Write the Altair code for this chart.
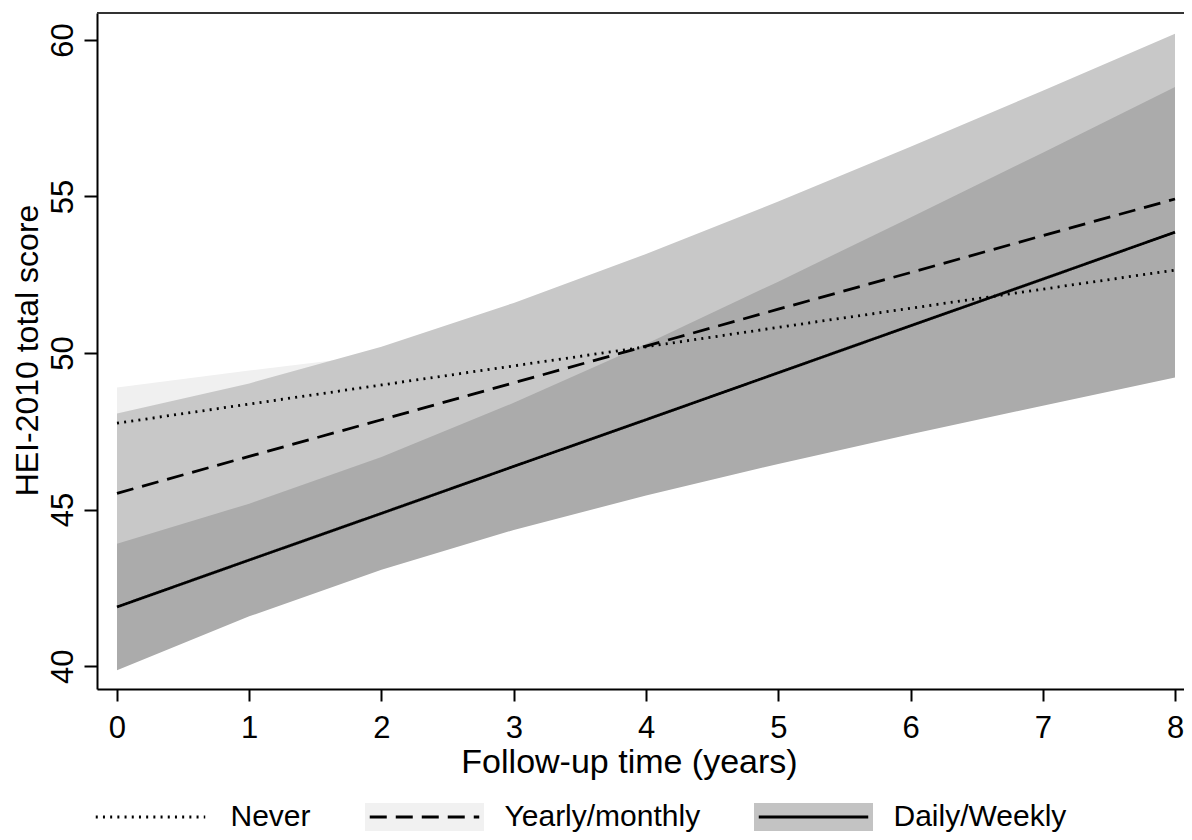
import altair as alt
import pandas as pd

# ---------------- data ----------------
years = [0, 1, 2, 3, 4, 5, 6, 7, 8]
series_names = ["Never", "Yearly/monthly", "Daily/Weekly"]

never_mean = [47.76, 48.37, 48.98, 49.59, 50.20, 50.82, 51.43, 52.04, 52.65]
never_lo = [46.62, 47.30, 48.01, 48.58, 49.05, 49.44, 49.76, 50.03, 50.25]
never_hi = [48.90, 49.44, 49.95, 50.60, 51.35, 52.20, 53.10, 54.05, 55.05]

yearly_mean = [45.52, 46.70, 47.87, 49.05, 50.22, 51.40, 52.57, 53.75, 54.92]
yearly_lo = [42.97, 44.37, 45.54, 46.50, 47.28, 47.96, 48.55, 49.12, 49.64]
yearly_hi = [48.07, 49.03, 50.20, 51.60, 53.16, 54.84, 56.59, 58.38, 60.20]

daily_mean = [41.89, 43.39, 44.88, 46.38, 47.87, 49.37, 50.87, 52.36, 53.86]
daily_lo = [39.87, 41.59, 43.08, 44.35, 45.45, 46.46, 47.41, 48.32, 49.22]
daily_hi = [43.91, 45.19, 46.68, 48.41, 50.29, 52.28, 54.33, 56.40, 58.50]

x_ticks = [0, 1, 2, 3, 4, 5, 6, 7, 8]
y_ticks = [40, 45, 50, 55, 60]

band_colors = {"Never": "#f0f0f0", "Yearly/monthly": "#c8c8c8", "Daily/Weekly": "#ababab"}
legend_box_colors = ["#ffffff", "#f1f1f1", "#c3c3c3"]
dash_patterns = [[2, 5.2], [17, 9], [1, 0]]

rows = []
for name, m, lo, hi in [
    ("Never", never_mean, never_lo, never_hi),
    ("Yearly/monthly", yearly_mean, yearly_lo, yearly_hi),
    ("Daily/Weekly", daily_mean, daily_lo, daily_hi),
]:
    for t, a, b, c in zip(years, m, lo, hi):
        rows.append({"series": name, "key": name, "year": t, "mean": a, "lo": b, "hi": c})
df = pd.DataFrame(rows)

FONT = "Liberation Sans"
W, H = 1087, 676

x_scale = alt.Scale(domain=[-0.1512, 8.068], nice=False, zero=False)
y_scale = alt.Scale(domain=[39.27, 60.86], nice=False, zero=False)

x_axis = alt.Axis(
    values=x_ticks, format="d", title="Follow-up time (years)", grid=False,
    labelFontSize=31, labelPadding=12, labelColor="black", labelFlush=False, labelOverlap=False,
    tickSize=12, tickWidth=2, tickColor="black", domainWidth=2, domainColor="black",
    titleFontSize=34, titleFontWeight="normal", titleColor="black",
    titleBaseline="top", titleAlign="center", titleX=532, titleY=56,
)
y_axis = alt.Axis(
    values=y_ticks, format="d", title="HEI-2010 total score", grid=False,
    labelFontSize=31, labelPadding=12, labelColor="black", labelAngle=270,
    labelAlign="center", labelBaseline="alphabetic", labelFlush=False, labelOverlap=False,
    tickSize=13, tickWidth=2, tickColor="black", domainWidth=2, domainColor="black",
    titleFontSize=32, titleFontWeight="normal", titleColor="black", titleAngle=270,
    titleBaseline="alphabetic", titleAlign="center", titleX=-60, titleY=337,
)

base = alt.Chart(df)


def band(name):
    return (
        base.transform_filter(alt.datum.series == name)
        .mark_area(color=band_colors[name], opacity=1)
        .encode(
            x=alt.X("year:Q", scale=x_scale, axis=x_axis),
            y=alt.Y("lo:Q", scale=y_scale, axis=y_axis),
            y2="hi:Q",
        )
    )


LEG_X, LEG_Y = -7.5, 743
common_leg = dict(
    title=None, orient="none", legendX=LEG_X, legendY=LEG_Y, direction="horizontal",
    columns=3, symbolSize=14161, symbolStrokeWidth=3, labelFontSize=30, labelFont=FONT,
    labelOffset=19, labelLimit=400, columnPadding=47, padding=0, offset=0,
    labelBaseline="middle",
)

lines = base.mark_line(color="black", strokeWidth=2.8).encode(
    x=alt.X("year:Q", scale=x_scale, axis=x_axis),
    y=alt.Y("mean:Q", scale=y_scale, axis=y_axis),
    strokeDash=alt.StrokeDash(
        "series:N", sort=series_names,
        scale=alt.Scale(range=dash_patterns),
        legend=alt.Legend(
            symbolType="M-1,-0.235M-0.92,0H0.92M1,0.235",
            symbolStrokeColor="black", symbolFillColor="transparent",
            labelColor="black", zindex=2, **common_leg,
        ),
    ),
)

keys = base.mark_square(opacity=0).encode(
    x=alt.X("year:Q", scale=x_scale, axis=x_axis),
    y=alt.Y("mean:Q", scale=y_scale, axis=y_axis),
    color=alt.Color(
        "key:N", sort=series_names,
        scale=alt.Scale(range=legend_box_colors),
        legend=alt.Legend(
            symbolType="M-1,-0.235H1V0.235H-1Z",
            symbolStrokeColor="transparent", symbolOpacity=1,
            labelOpacity=0, zindex=1, **common_leg,
        ),
    ),
)

top_border = (
    alt.Chart(pd.DataFrame({"v": [0]}))
    .mark_rule(color="#333333", strokeWidth=2)
    .encode(y=alt.value(0), x=alt.value(0), x2=alt.value(W))
)

chart = (
    alt.layer(band("Never"), band("Yearly/monthly"), band("Daily/Weekly"), keys, lines, top_border)
    .properties(
        width=W, height=H,
        padding={"left": 89, "top": 5, "right": 0, "bottom": 143},
        autosize=alt.AutoSizeParams(type="none"),
        background="white",
    )
    .configure(font=FONT)
    .configure_view(stroke=None)
)

chart.save("out.html", embed_options={"renderer": "svg", "actions": False})
